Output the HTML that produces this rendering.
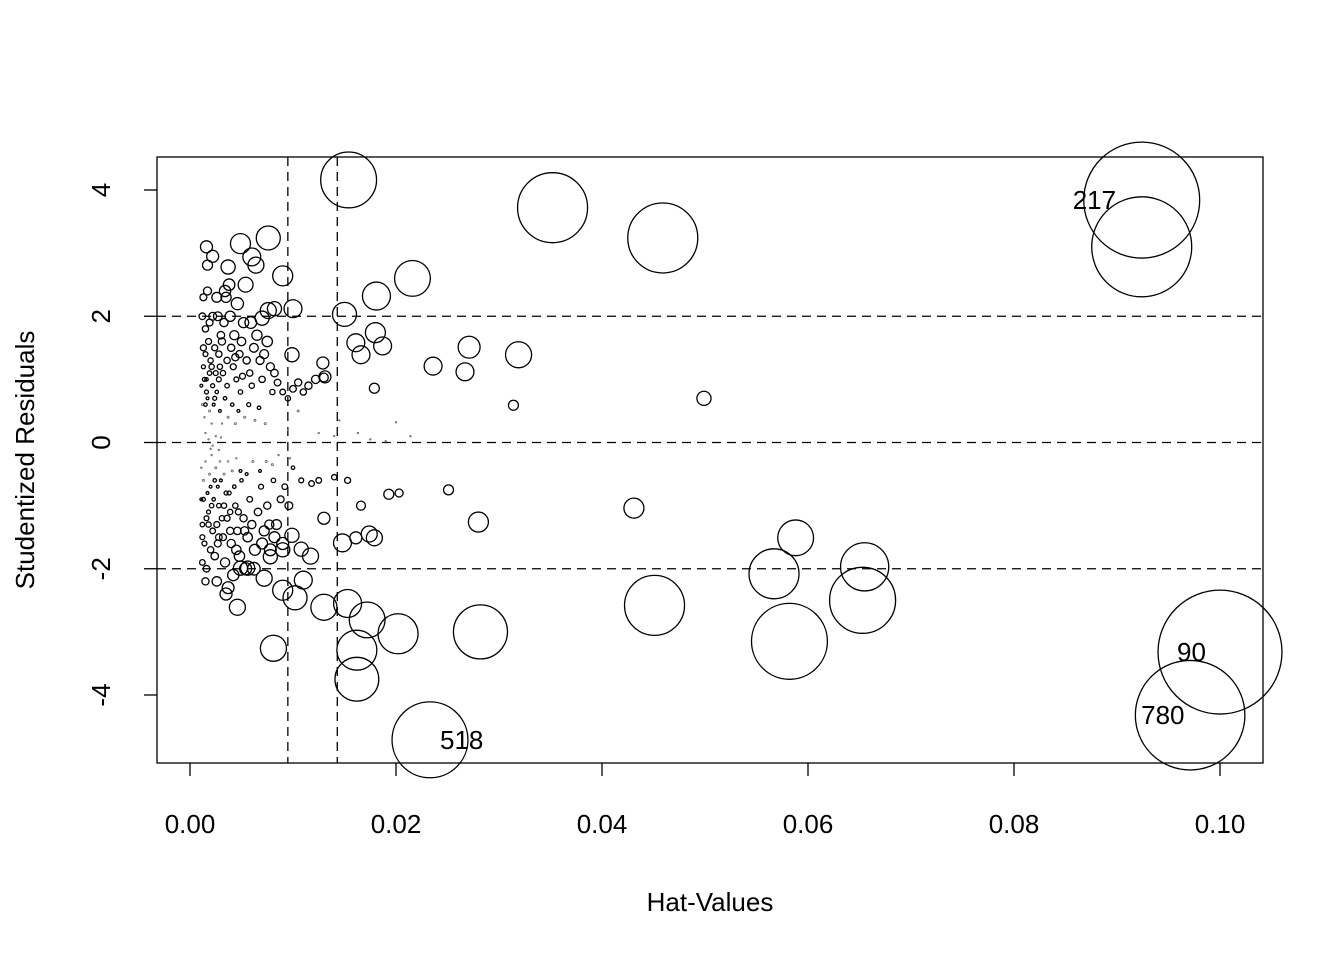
<!DOCTYPE html>
<html><head><meta charset="utf-8"><style>
html,body{margin:0;padding:0;background:#fff;}
svg{display:block;font-family:"Liberation Sans",Arial,sans-serif;}
</style></head><body>
<svg id="chart" width="1344" height="960" viewBox="0 0 1344 960" xmlns="http://www.w3.org/2000/svg">
<rect x="0" y="0" width="1344" height="960" fill="#fff"/>
<g id="axes"></g><g id="marks"></g><g id="labels"></g>
</svg>
<script>
const xTicks = [0, 0.02, 0.04, 0.06, 0.08, 0.10];
const xTickLabels = ["0.00","0.02","0.04","0.06","0.08","0.10"];
const yTicks = [-4, -2, 0, 2, 4];
const yTickLabels = ["-4","-2","0","2","4"];
const hLines = [-2, 0, 2];
const vLines = [0.0095, 0.0143];
const hatValues = [.0924,.0924,.1000,.0971,.0233,.0352,.0459,.0154,.0582,.0451,.0653,.0567,.0655,.0588,.0282,.0202,.0162,.0162,.0172,.0153,.0130,.0102,.0090,.0081,.0216,.0181,.0150,.0319,.0271,.0236,.0267,.0431,.0280,.0499,.0314,.0076,.0049,.0090,.0100,.0180,.0187,.0161,.0166,.0148,.0174,.0179,.0110,.0108,.0117,.0099,.0046,.0060,.0064,.0082,.0076,.0070,.0037,.0022,.0016,.0017,.0099,.0129,.0131,.0161,.0130,.0072,.0056,.0049,.0035,.0251,.0203,.0193,.0179,.0078,.0090,
.0012,.0015,.0018,.0020,.0013,.0016,.0022,.0025,.0028,.0030,.0033,.0035,.0038,.0040,.0042,.0045,.0048,.0050,.0052,.0055,.0058,.0060,.0062,.0065,.0068,.0070,.0072,.0075,.0078,.0080,.0082,.0085,.0090,.0095,.0100,.0105,.0110,.0115,.0122,.0130,
.0011,.0012,.0014,.0017,.0019,.0021,.0023,.0026,.0029,.0031,.0034,.0037,.0041,.0044,.0047,.0053,.0057,.0063,.0067,.0073,.0015,.0019,.0024,.0027,.0032,.0036,.0039,.0043,.0046,.0049,.0054,.0059,.0013,.0017,.0022,.0026,.0029,.0034,.0044,.0051,
.0095,.0105,.0125,.0145,.0163,.0200,.0214,.0190,.0140,.0175,
.0011,.0012,.0014,.0016,.0018,.0020,.0022,.0024,.0026,.0028,.0030,.0032,.0034,.0036,.0038,.0040,.0042,.0044,.0046,.0048,.0050,.0052,.0054,.0056,.0058,.0060,.0063,.0066,.0069,.0072,.0075,.0078,.0081,.0084,.0088,.0092,.0096,.0100,.0108,.0118,.0125,.0140,.0153,.0166,
.0011,.0013,.0015,.0017,.0019,.0021,.0023,.0025,.0027,.0029,.0031,.0033,.0035,.0037,.0039,.0041,.0043,.0045,.0047,.0049,.0055,.0061,.0068,.0074,.0080,.0086,.0097,.0012,.0015,.0020,.0028,.0037,.0045,.0053,.0062,.0070,.0077,.0082,.0090,
.0013,.0016,.0019,.0021,.0024,.0018,.0021,.0024,.0027,.0033,.0016,.0013,.0015,.0028,.0031,.0036,.0026,.0039,.0014,.0012,
.0015,.0020,.0025,.0018,.0022,.0030,.0028];
const studRes = [3.84,3.10,-3.32,-4.32,-4.71,3.72,3.24,4.16,-3.15,-2.58,-2.50,-2.08,-1.97,-1.51,-3.00,-3.03,-3.75,-3.29,-2.81,-2.55,-2.61,-2.46,-2.34,-3.26,2.60,2.32,2.03,1.39,1.51,1.21,1.12,-1.04,-1.26,0.70,0.59,3.24,3.15,2.64,2.12,1.74,1.53,1.58,1.39,-1.59,-1.45,-1.51,-2.18,-1.69,-1.80,-1.47,-2.61,2.94,2.81,2.12,2.09,1.97,2.78,2.95,3.10,2.81,1.39,1.26,1.04,-1.51,-1.20,-2.15,-1.99,-1.99,-2.40,-0.75,-0.80,-0.82,0.86,-1.81,-1.70,
2.0,1.8,1.6,1.3,1.2,1.0,0.9,1.1,1.4,1.7,1.9,2.3,2.5,1.5,1.2,1.0,1.4,1.6,1.9,1.3,1.1,0.9,1.5,1.7,1.3,1.0,1.4,1.6,1.2,0.8,1.1,0.95,0.8,0.7,0.85,0.95,0.8,0.9,1.0,1.03,
0.9,0.6,0.4,0.7,0.5,0.3,0.6,0.8,0.5,0.3,0.7,0.4,0.6,0.3,0.5,0.4,0.6,0.35,0.55,0.3,1.4,1.1,1.5,2.0,1.1,0.9,2.0,1.7,2.2,0.8,2.5,1.9,2.3,2.4,2.0,2.3,1.2,2.4,1.35,1.05,
0.2,0.5,0.15,0.35,0.15,0.32,0.1,0.02,0.1,0.05,
-0.9,-1.3,-1.6,-2.0,-1.1,-0.7,-1.4,-1.8,-2.2,-1.0,-0.6,-1.5,-1.9,-1.2,-0.8,-1.6,-2.1,-1.0,-1.4,-1.8,-0.6,-1.2,-2.0,-1.5,-0.9,-1.3,-1.7,-1.1,-0.7,-1.4,-1.0,-1.7,-0.6,-1.3,-0.9,-0.7,-1.0,-0.4,-0.6,-0.65,-0.6,-0.55,-0.6,-1.0,
-0.4,-0.6,-0.3,-0.8,-0.5,-0.2,-0.9,-0.4,-0.7,-0.3,-1.2,-0.5,-0.8,-0.3,-1.1,-0.45,-0.7,-0.25,-1.1,-0.45,-0.5,-0.3,-0.45,-0.3,-0.35,-0.2,-0.25,-1.9,-2.2,-1.7,-1.5,-2.3,-1.7,-1.4,-2.0,-1.6,-1.3,-1.5,-1.6,
1.5,0.8,1.9,1.2,0.7,-1.3,-1.0,-0.6,-1.6,-1.0,-1.2,-0.9,0.6,1.0,1.6,1.3,-1.3,-1.4,1.0,-1.5,
0.15,-0.1,0.1,0.05,-0.05,0.08,-0.12];
const cookD = [.336,.25,.384,.30,.144,.1225,.1225,.078,.144,.09,.109,.0625,.058,.032,.073,.04,.048,.04,.032,.0196,.017,.0144,.01,.017,.032,.0196,.0144,.017,.012,.008,.008,.01,.01,.005,.0025,.0144,.01,.01,.008,.01,.008,.008,.008,.008,.0064,.0064,.008,.005,.0064,.005,.0064,.008,.0064,.005,.0064,.005,.005,.0036,.0036,.0025,.005,.0036,.0036,.0036,.0036,.0064,.005,.005,.0036,.0025,.0016,.0025,.0025,.005,.005,
.0011,.0010,.0009,.0007,.0004,.0003,.0004,.0006,.0010,.0014,.0017,.0026,.0033,.0013,.0009,.0006,.0013,.0018,.0026,.0013,.0010,.0007,.0019,.0026,.0016,.0010,.0020,.0027,.0016,.0007,.0014,.0011,.0008,.0007,.0011,.0013,.0010,.0013,.0017,.0019,
.0002,.0001,.00005,.0002,.0001,.00004,.0002,.0003,.0002,.00005,.0003,.0001,.0003,.0001,.0002,.0001,.0004,.0001,.0003,.0001,.0006,.0005,.0009,.0019,.0007,.0005,.0026,.0021,.0037,.0005,.0055,.0034,.0012,.0016,.0015,.0024,.0007,.0032,.0013,.0009,
.00001,.0001,.00001,.00003,.00001,.00004,.00001,.000005,.000005,.000005,
.0002,.0005,.0006,.0011,.0004,.0002,.0008,.0014,.0022,.0005,.0002,.0012,.0021,.0009,.0004,.0017,.0032,.0007,.0014,.0027,.0003,.0013,.0036,.0022,.0008,.0017,.0030,.0014,.0006,.0025,.0013,.0035,.0005,.0024,.0012,.0008,.0015,.0003,.0006,.0008,.0008,.0007,.0009,.0020,
.00005,.0001,.00004,.0002,.0001,.00002,.0003,.0001,.0002,.00005,.0007,.0001,.0004,.00005,.0007,.0001,.0003,.00004,.0009,.0002,.0002,.0001,.0002,.0001,.0001,.00005,.00005,.0008,.0013,.0010,.0011,.0035,.0022,.0017,.0040,.0030,.0021,.0030,.0036,
.0009,.0004,.0012,.0007,.0004,.0007,.0005,.0003,.0012,.0007,.0006,.0004,.0003,.0006,.0013,.0010,.0009,.0013,.0004,.0006,
.00001,.00001,.00001,.000005,.000005,.000005,.00001];
const pointLabels = [{i:0,t:"217",dx:-69},{i:2,t:"90",dx:-43},{i:3,t:"780",dx:-49},{i:4,t:"518",dx:10}];

const X0=157,X1=1263,Y0=157,Y1=763;
function sx(v){return 190 + v*10300;}
function sy(v){return 442.5 - v*63.125;}
function sr(c){return Math.max(0.7, 100*Math.sqrt(c));}
const NS="http://www.w3.org/2000/svg";
function mk(tag,attrs,parent,text){const e=document.createElementNS(NS,tag);for(const k in attrs)e.setAttribute(k,attrs[k]);if(text!==undefined)e.textContent=text;parent.appendChild(e);return e;}
const axes=document.getElementById('axes'),marks=document.getElementById('marks'),labels=document.getElementById('labels');

let box=mk('rect',{x:X0,y:Y0,width:X1-X0,height:Y1-Y0,fill:'none',stroke:'#000','stroke-width':1.3},axes);



xTicks.forEach((t,i)=>{
  const x=sx(t);
  let l=mk('line',{x1:x,y1:Y1,x2:x,y2:Y1+13,stroke:'#000','stroke-width':1.3},axes);
  
  
  let tx=mk('text',{x:x,y:833,'text-anchor':'middle','font-size':26,fill:'#000'},axes,xTickLabels[i]);
  
  
});

yTicks.forEach((t,i)=>{
  const y=sy(t);
  let l=mk('line',{x1:X0-13,y1:y,x2:X0,y2:y,stroke:'#000','stroke-width':1.3},axes);
  
  
  let tx=mk('text',{x:0,y:0,transform:`translate(110,${y}) rotate(-90)`,'text-anchor':'middle','font-size':26,fill:'#000'},axes,yTickLabels[i]);
  
  
});

let xt=mk('text',{x:710,y:911,'text-anchor':'middle','font-size':26,fill:'#000'},axes,'Hat-Values');


let yt=mk('text',{x:0,y:0,transform:'translate(34,460) rotate(-90)','text-anchor':'middle','font-size':26,fill:'#000'},axes,'Studentized Residuals');



hLines.forEach(v=>{
  let l=mk('line',{x1:X0,y1:sy(v),x2:X1,y2:sy(v),stroke:'#000','stroke-width':1.3,'stroke-dasharray':'9 6'},axes);
  
  
});
vLines.forEach(v=>{
  let l=mk('line',{x1:sx(v),y1:Y0,x2:sx(v),y2:Y1,stroke:'#000','stroke-width':1.3,'stroke-dasharray':'9 6'},axes);
  
  
});

hatValues.forEach((h,i)=>{
  const r=sr(cookD[i]);
  let c=mk('circle',{cx:sx(h),cy:sy(studRes[i]),r:r,fill:'none',stroke:r<1.2?'#777':'#000','stroke-width':r<1.2?1:1.3},marks);
  
  
});

pointLabels.forEach(p=>{
  let tx=mk('text',{x:sx(hatValues[p.i])+p.dx,y:sy(studRes[p.i])+9,'font-size':26,fill:'#000'},labels,p.t);
  
  
});
</script>
</body></html>
